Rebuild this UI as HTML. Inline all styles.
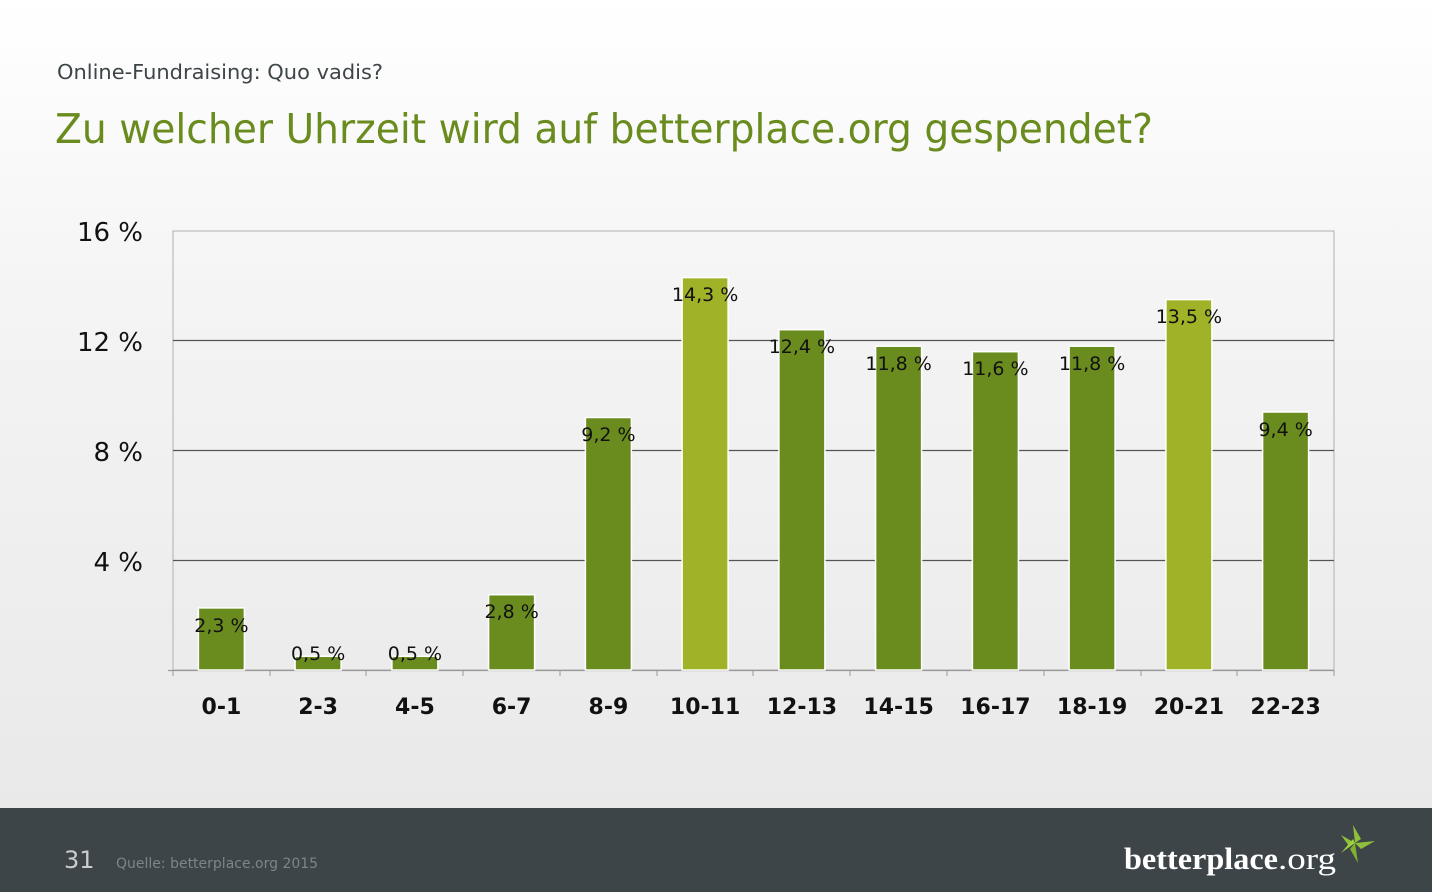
<!DOCTYPE html>
<html><head><meta charset="utf-8"><style>
html,body{margin:0;padding:0;width:1432px;height:892px;overflow:hidden}
body{background:linear-gradient(#ffffff 0px,#f4f4f4 300px,#e9e9e9 808px)}
svg{display:block;font-family:"DejaVu Sans","Liberation Sans",sans-serif}
</style></head><body>
<svg width="1432" height="892" viewBox="0 0 1432 892">
<text x="57" y="79" font-size="20" fill="#3d4548" textLength="326" lengthAdjust="spacingAndGlyphs">Online-Fundraising: Quo vadis?</text>
<text x="55" y="143" font-size="41" fill="#6a8c1f" textLength="1098" lengthAdjust="spacingAndGlyphs">Zu welcher Uhrzeit wird auf betterplace.org gespendet?</text>
<rect x="173" y="231" width="1161" height="439" fill="none" stroke="#b0b0b0" stroke-width="1"/>
<g stroke="#555" stroke-width="1.3">
<line x1="173" y1="340.5" x2="1334" y2="340.5"/>
<line x1="173" y1="450.5" x2="1334" y2="450.5"/>
<line x1="173" y1="560.5" x2="1334" y2="560.5"/>
</g>
<line x1="168" y1="670.5" x2="1334" y2="670.5" stroke="#999" stroke-width="1.3"/>
<g stroke="#999" stroke-width="1">
<line x1="173" y1="670" x2="173" y2="676"/><line x1="270" y1="670" x2="270" y2="676"/><line x1="366" y1="670" x2="366" y2="676"/><line x1="463" y1="670" x2="463" y2="676"/><line x1="560" y1="670" x2="560" y2="676"/><line x1="657" y1="670" x2="657" y2="676"/><line x1="753" y1="670" x2="753" y2="676"/><line x1="850" y1="670" x2="850" y2="676"/><line x1="947" y1="670" x2="947" y2="676"/><line x1="1044" y1="670" x2="1044" y2="676"/><line x1="1141" y1="670" x2="1141" y2="676"/><line x1="1237" y1="670" x2="1237" y2="676"/><line x1="1334" y1="670" x2="1334" y2="676"/>
</g>
<g font-size="26" fill="#111" text-anchor="end">
<text x="143" y="241">16 %</text><text x="143" y="351">12 %</text><text x="143" y="461">8 %</text><text x="143" y="571">4 %</text>
</g>
<g stroke="#fff" stroke-width="1.5">
<rect x="198.4" y="607.9" width="46" height="62.1" fill="#6a8c1f"/>
<rect x="295.1" y="656.3" width="46" height="13.7" fill="#6a8c1f"/>
<rect x="391.9" y="656.3" width="46" height="13.7" fill="#6a8c1f"/>
<rect x="488.6" y="594.7" width="46" height="75.3" fill="#6a8c1f"/>
<rect x="585.4" y="417.5" width="46" height="252.5" fill="#6a8c1f"/>
<rect x="682.1" y="277.6" width="46" height="392.4" fill="#a0b227"/>
<rect x="778.9" y="329.7" width="46" height="340.3" fill="#6a8c1f"/>
<rect x="875.6" y="346.2" width="46" height="323.8" fill="#6a8c1f"/>
<rect x="972.4" y="351.7" width="46" height="318.3" fill="#6a8c1f"/>
<rect x="1069.1" y="346.2" width="46" height="323.8" fill="#6a8c1f"/>
<rect x="1165.9" y="299.6" width="46" height="370.4" fill="#a0b227"/>
<rect x="1262.6" y="412.0" width="46" height="258" fill="#6a8c1f"/>
</g>
<g font-size="19" fill="#111" text-anchor="middle">
<text x="221.4" y="632">2,3 %</text>
<text x="318.1" y="660">0,5 %</text>
<text x="414.9" y="660">0,5 %</text>
<text x="511.6" y="618">2,8 %</text>
<text x="608.4" y="441">9,2 %</text>
<text x="705.1" y="301">14,3 %</text>
<text x="801.9" y="353">12,4 %</text>
<text x="898.6" y="370">11,8 %</text>
<text x="995.4" y="375">11,6 %</text>
<text x="1092.1" y="370">11,8 %</text>
<text x="1188.9" y="323">13,5 %</text>
<text x="1285.6" y="436">9,4 %</text>
</g>
<g font-size="22" font-weight="bold" fill="#111" text-anchor="middle">
<text x="221.4" y="714">0-1</text><text x="318.1" y="714">2-3</text><text x="414.9" y="714">4-5</text><text x="511.6" y="714">6-7</text><text x="608.4" y="714">8-9</text><text x="705.1" y="714">10-11</text><text x="801.9" y="714">12-13</text><text x="898.6" y="714">14-15</text><text x="995.4" y="714">16-17</text><text x="1092.1" y="714">18-19</text><text x="1188.9" y="714">20-21</text><text x="1285.6" y="714">22-23</text>
</g>
<rect x="0" y="808" width="1432" height="84" fill="#3d4548"/>
<text x="64" y="868" font-size="24" fill="#ccc">31</text>
<text x="116" y="868" font-size="14" fill="#7c8588">Quelle: betterplace.org 2015</text>
<text x="1124" y="869" font-family="Liberation Serif,serif" font-size="31" fill="#fff" font-weight="bold" textLength="154" lengthAdjust="spacingAndGlyphs">betterplace</text>
<text x="1278" y="869" font-family="Liberation Serif,serif" font-size="31" fill="#fff" textLength="58" lengthAdjust="spacingAndGlyphs">.org</text>
<g transform="translate(1355,843)">
<polygon points="0,0 -14,-8 -6,3" fill="#8fc03a"/>
<polygon points="0,0 -2,-18 6,-4" fill="#8fc03a"/>
<polygon points="0,0 20,-2 6,6" fill="#8fc03a"/>
<polygon points="0,0 3,20 -5,6" fill="#7fb030"/>
<polygon points="0,0 -14,10 -2,-4" fill="#9fd040"/>
</g>
</svg>
</body></html>
